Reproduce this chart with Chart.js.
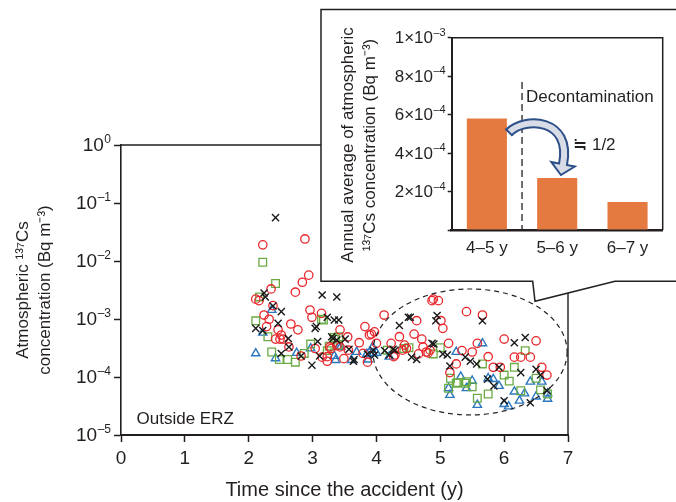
<!DOCTYPE html>
<html><head><meta charset="utf-8">
<script src="https://cdn.jsdelivr.net/npm/chart.js@4.4.0/dist/chart.umd.min.js"></script>
<style>
html,body{margin:0;padding:0;background:#fff;}
#wrap{position:relative;width:676px;height:502px;overflow:hidden;background:#fff;}
#main{position:absolute;left:0;top:0;width:676px;height:502px;}
#inset{position:absolute;left:321px;top:9px;width:355px;height:272px;}
</style></head><body>
<div id="wrap"><canvas id="main" width="676" height="502"></canvas><canvas id="inset" width="355" height="272"></canvas></div>
<script>
// ---------- data ----------
const xTickValues = [0,1,2,3,4,5,6,7];
const yTickValues = [1,1e-1,1e-2,1e-3,1e-4,1e-5];
const yTickLabels = ['10^0','10^–1','10^–2','10^–3','10^–4','10^–5'];

const redCircles = [
[2.88,2.4e-2],[2.22,1.9e-2],[2.94,5.7e-3],[2.84,4.3e-3],[2.73,2.9e-3],[2.35,3.3e-3],[2.11,2.2e-3],[2.16,2.07e-3],
[2.38,1.7e-3],[2.96,1.43e-3],[2.99,1.07e-3],[3.14,1.25e-3],[3.43,6.5e-4],[2.24,1.17e-3],[2.32,9.9e-4],[2.66,8.2e-4],
[2.77,6.5e-4],[2.46,6.5e-4],[2.51,5.3e-4],[2.54,4.5e-4],[2.49,4.5e-4],[3.04,3.1e-4],[2.63,3.3e-4],[2.82,2.3e-4],
[3.23,1.87e-4],[3.27,3.3e-4],[3.38,3.5e-4],[3.43,3.3e-4],[3.49,2.07e-4],[3.82,7.4e-4],[3.86,1.8e-4],[3.89,5.3e-4],
[3.97,6.0e-4],[3.92,5.5e-4],[3.55,4.9e-4],[3.73,3.9e-4],[4.00,3.8e-4],[3.29,3.1e-4],[3.56,2.9e-4],[3.15,2.2e-4],
[3.79,2.55e-4],[3.23,2.24e-4],[2.28,7.4e-4],[2.42,4.5e-4],
[4.87,2.07e-3],[4.89,2.2e-3],[4.97,2.07e-3],[4.12,1.17e-3],[5.41,1.34e-3],[5.66,1.17e-3],[4.63,9.35e-4],[5.01,9.35e-4],
[5.04,6.9e-4],[4.36,4.95e-4],[4.59,5.5e-4],[4.71,4.5e-4],[4.23,3.8e-4],[4.44,3.55e-4],[5.13,3.8e-4],[5.58,3.8e-4],
[6.00,4.5e-4],[6.50,4.2e-4],[4.47,3.1e-4],[4.41,2.9e-4],[4.73,3.3e-4],[4.66,2.5e-4],[4.78,2.7e-4],[4.81,2.6e-4],
[4.27,2.24e-4],[5.34,2.85e-4],[5.50,2.7e-4],[5.75,2.24e-4],[6.16,2.2e-4],[6.26,2.2e-4],[6.41,2.2e-4],[5.25,1.68e-4],
[5.83,1.47e-4],[6.59,1.47e-4],[6.67,1.08e-4],[5.15,1.19e-4],[5.94,1.47e-4],[4.84,2.9e-4],[4.29,2.4e-4]
];
const blackCrosses = [
[2.42,5.6e-2],[2.24,2.8e-3],[2.26,2.4e-3],[3.15,2.6e-3],[3.38,2.4e-3],[2.38,1.67e-3],[2.51,1.34e-3],[3.23,1.07e-3],
[3.34,9.6e-4],[3.41,9.6e-4],[3.04,6.9e-4],[2.46,8.4e-4],[2.11,6.9e-4],[2.22,6.3e-4],[2.62,4.6e-4],[3.08,4.1e-4],
[2.63,3.3e-4],[2.51,2.55e-4],[2.82,2.3e-4],[3.11,2.3e-4],[2.99,1.6e-4],[3.30,4.95e-4],[3.38,4.35e-4],[3.51,4.5e-4],
[3.57,3.0e-4],[3.64,1.87e-4],[3.86,2.5e-4],[3.97,2.4e-4],[3.06,7.4e-4],[3.32,4.6e-4],[3.65,2.0e-4],
[4.50,1.07e-3],[4.53,1.07e-3],[4.36,7.7e-4],[4.95,1.15e-3],[4.93,9.35e-4],[5.66,9.35e-4],[4.87,3.8e-4],[4.90,3.7e-4],
[6.16,3.9e-4],[6.33,4.8e-4],[3.95,2.9e-4],[4.13,2.85e-4],[4.29,2.9e-4],[4.55,2.2e-4],[4.63,2.0e-4],[5.04,2.5e-4],
[5.11,2.4e-4],[5.39,2.2e-4],[5.47,1.87e-4],[5.57,1.68e-4],[5.15,1.55e-4],[5.92,1.47e-4],[6.26,1.19e-4],[6.50,1.36e-4],
[6.57,1.08e-4],[5.74,9.2e-5],[5.84,7.0e-5],[6.00,3.9e-5],[6.41,3.6e-5],[6.67,5.8e-5],[4.20,2.4e-4],[4.26,3.0e-4]
];
const greenSquares = [
[2.22,9.5e-3],[2.42,4.1e-3],[2.17,2.4e-3],[3.14,9.9e-4],[2.11,9.3e-4],[2.30,4.95e-4],[2.97,3.7e-4],[2.36,2.7e-4],
[2.48,2.0e-4],[2.61,2.0e-4],[2.73,1.8e-4],[2.87,2.55e-4],[3.34,4.8e-4],[3.41,4.95e-4],[3.36,4.5e-4],[3.40,3.55e-4],
[3.26,3.4e-4],[3.23,2.85e-4],[3.17,9.6e-4],
[4.17,2.9e-4],[4.43,3.1e-4],[4.51,3.2e-4],[5.00,3.2e-4],[4.89,2.5e-4],[6.33,2.85e-4],[5.66,1.68e-4],[6.16,1.47e-4],
[6.00,1.08e-4],[6.08,8.5e-5],[5.16,9.5e-5],[5.27,8.0e-5],[5.41,8.3e-5],[5.50,6.8e-5],[6.50,9.5e-5],[5.75,5.1e-5],
[5.58,4.3e-5],[6.26,5.8e-5],[6.57,6.0e-5],[5.13,6.4e-5],[5.25,7.8e-5],[5.39,7.8e-5],[6.68,5.1e-5]
];
const blueTriangles = [
[2.36,1.43e-3],[2.22,5.8e-4],[2.11,2.55e-4],[2.42,2.1e-4],[2.75,2.6e-4],[2.97,3.1e-4],[3.34,2.3e-4],[3.41,3.3e-4],
[3.69,2.7e-4],[3.85,2.5e-4],[3.94,3.3e-4],[3.44,3.3e-4],[3.36,1.96e-4],[3.61,1.96e-4],[3.87,2.0e-4],[4.00,2.6e-4],
[3.95,2.55e-4],
[4.20,2.24e-4],[5.66,3.8e-4],[5.25,2.7e-4],[5.32,1.01e-4],[5.50,8.6e-5],[5.75,9.5e-5],[5.83,9.2e-5],[5.13,6.4e-5],
[5.15,4.9e-5],[5.41,6.4e-5],[5.92,7.0e-5],[6.16,5.6e-5],[6.32,5.2e-5],[6.41,8.3e-5],[6.59,8.3e-5],[6.68,5.2e-5],
[5.58,3.3e-5],[6.00,3.4e-5],[6.07,3.1e-5],[6.24,3.9e-5],[6.50,4.6e-5],[6.68,4.2e-5]
];

const insetCategories = ['4–5 y','5–6 y','6–7 y'];
const insetValues = [5.8e-4, 2.7e-4, 1.45e-4];
const insetTickValues = [0,2e-4,4e-4,6e-4,8e-4,1e-3];
const insetTickLabels = ['','2×10^–4','4×10^–4','6×10^–4','8×10^–4','1×10^–3'];

// ---------- styling ----------
const FONT = '"Liberation Sans", Arial, Helvetica, sans-serif';
const INK = '#231f20';
const pts = a => a.map(p => ({x:p[0], y:p[1]}));
const ellipseSpec = {cx:5.466, rx:1.52, cy:2.7e-4, decades:1.086};

// draws "base^exp" right-aligned with a raised, smaller exponent
function drawPow(ctx, label, xRight, yMid, size){
  const parts = label.split('^');
  const base = parts[0], exp = parts[1] || '';
  const sup = Math.round(size*0.63);
  ctx.save();
  ctx.fillStyle = INK; ctx.textAlign = 'left'; ctx.textBaseline = 'middle';
  ctx.font = sup+'px '+FONT; const ew = ctx.measureText(exp).width;
  ctx.font = size+'px '+FONT; const bw = ctx.measureText(base).width;
  ctx.fillText(base, xRight-ew-bw-0.5, yMid+1);
  ctx.font = sup+'px '+FONT; ctx.fillText(exp, xRight-ew, yMid+1-size*0.34);
  ctx.restore();
}
function labelFor(values, labels, v, log){
  const i = values.findIndex(t => log ? Math.abs(Math.log10(t)-Math.log10(v))<1e-6 : Math.abs(t-v)<1e-9);
  return i>=0 ? labels[i] : '';
}

const mainDecor = {
  id:'mainDecor',
  afterDraw(chart){
    const {ctx, chartArea:a, scales:{x,y}} = chart;
    ctx.save();
    ctx.strokeStyle = INK; ctx.lineWidth = 1.4;
    ctx.beginPath(); ctx.moveTo(a.left,a.top); ctx.lineTo(a.right,a.top); ctx.lineTo(a.right,a.bottom); ctx.stroke();
    // y tick labels with superscript exponents
    const tl = y.options.grid.tickLength + y.options.ticks.padding;
    y.ticks.forEach(t => drawPow(ctx, labelFor(yTickValues, yTickLabels, t.value, true), a.left - tl, y.getPixelForValue(t.value), 19));
    // dashed ellipse
    const cx = x.getPixelForValue(ellipseSpec.cx);
    const rx = x.getPixelForValue(ellipseSpec.cx+ellipseSpec.rx) - cx;
    const cy = y.getPixelForValue(ellipseSpec.cy);
    const ry = cy - y.getPixelForValue(ellipseSpec.cy*Math.pow(10,ellipseSpec.decades));
    ctx.strokeStyle = INK; ctx.setLineDash([5,4]); ctx.lineWidth = 1.2;
    ctx.beginPath(); ctx.ellipse(cx,cy,rx,ry,0,0,2*Math.PI); ctx.stroke();
    ctx.setLineDash([]);
    ctx.fillStyle = INK; ctx.font = '17px '+FONT; ctx.textAlign = 'left'; ctx.textBaseline = 'middle';
    ctx.fillText('Outside ERZ', a.left+15.5, a.bottom-15.5);
    // inset call-out box
    ctx.beginPath();
    ctx.moveTo(321,9.5); ctx.lineTo(690,9.5); ctx.lineTo(690,281.3); ctx.lineTo(615,281.3);
    ctx.lineTo(535,301.3); ctx.lineTo(532.7,281.3); ctx.lineTo(321,281.3); ctx.closePath();
    ctx.fillStyle = '#fff'; ctx.fill();
    ctx.lineWidth = 1.5; ctx.strokeStyle = INK; ctx.stroke();
    ctx.restore();
  }
};

new Chart(document.getElementById('main'), {
  type:'scatter',
  data:{datasets:[
    {data:pts(blackCrosses), pointStyle:'crossRot', pointRadius:5, pointBorderWidth:1.4, borderColor:'#1a1a1a', backgroundColor:'#1a1a1a'},
    {data:pts(redCircles), pointStyle:'circle', pointRadius:4.2, pointBorderWidth:1.3, borderColor:'#e8262b', backgroundColor:'rgba(0,0,0,0)'},
    {data:pts(greenSquares), pointStyle:'rect', pointRadius:5.4, pointBorderWidth:1.3, borderColor:'#6aab45', backgroundColor:'rgba(0,0,0,0)'},
    {data:pts(blueTriangles), pointStyle:'triangle', pointRadius:4.8, pointBorderWidth:1.4, borderColor:'#2a77c0', backgroundColor:'rgba(0,0,0,0)'}
  ]},
  options:{
    responsive:false, animation:false, events:[],
    layout:{padding:{top:145,right:108,left:0,bottom:0}},
    plugins:{legend:{display:false}, tooltip:{enabled:false}},
    scales:{
      x:{type:'linear', min:0, max:7,
        afterBuildTicks:s=>{s.ticks = xTickValues.map(v=>({value:v}));},
        afterFit:s=>{s.height = 67;},
        grid:{display:true, drawOnChartArea:false, drawTicks:true, tickLength:7, tickWidth:1.5, tickColor:INK},
        border:{display:true, color:INK, width:2},
        ticks:{font:{family:FONT,size:19}, color:INK, padding:5, maxRotation:0, autoSkip:false},
        title:{display:true, text:'Time since the accident (y)', font:{family:FONT,size:20,lineHeight:1.2}, color:INK, padding:{top:0,bottom:0}}
      },
      y:{type:'logarithmic', min:1e-5, max:1,
        afterBuildTicks:s=>{s.ticks = yTickValues.map(v=>({value:v}));},
        afterFit:s=>{s.width = 121;},
        grid:{display:true, drawOnChartArea:false, drawTicks:true, tickLength:7, tickWidth:1.5, tickColor:INK},
        border:{display:true, color:INK, width:1.6},
        ticks:{font:{family:FONT,size:19}, color:INK, padding:3, autoSkip:false, callback:()=>''},
        title:{display:true, text:['Atmospheric ¹³⁷Cs','concentration (Bq m⁻³)'], font:{family:FONT,size:17,lineHeight:1.3}, color:INK, padding:{top:12,bottom:0}}
      }
    }
  },
  plugins:[mainDecor]
});

// ---------- inset ----------
const insetDecor = {
  id:'insetDecor',
  afterDraw(chart){
    const {ctx, chartArea:a, scales:{x,y}} = chart;
    const P = (i,v)=>[x.getPixelForValue(i), y.getPixelForValue(v)];
    ctx.save();
    ctx.strokeStyle = INK; ctx.lineWidth = 1.5;
    ctx.beginPath(); ctx.moveTo(a.left,a.top); ctx.lineTo(a.right,a.top); ctx.lineTo(a.right,a.bottom); ctx.stroke();
    // y tick labels
    const tl = y.options.grid.tickLength + y.options.ticks.padding;
    y.ticks.forEach(t => { const s = labelFor(insetTickValues, insetTickLabels, t.value, false); if (s) drawPow(ctx, s, a.left - tl, y.getPixelForValue(t.value), 17); });
    // decontamination divider
    const dx = x.getPixelForValue(0.5);
    ctx.strokeStyle = INK; ctx.setLineDash([7,4]); ctx.lineWidth = 1.3;
    ctx.beginPath(); ctx.moveTo(dx, y.getPixelForValue(7.7e-4)); ctx.lineTo(dx, a.bottom); ctx.stroke();
    ctx.setLineDash([]);
    ctx.fillStyle = INK; ctx.font = '17px '+FONT; ctx.textAlign = 'left'; ctx.textBaseline = 'middle';
    ctx.fillText('Decontamination', dx+4, y.getPixelForValue(6.9e-4));
    ctx.fillText('≒ 1/2', x.getPixelForValue(1)+16, y.getPixelForValue(4.4e-4));
    // curved arrow
    const S = P(0.315,5.08e-4), C1 = P(0.542,5.91e-4), C2 = P(1.211,5.80e-4), E = P(1.083,3.42e-4);
    const navy = '#2c4f8a', light = '#d7dce6';
    const shaft = ()=>{ctx.beginPath(); ctx.moveTo(S[0],S[1]); ctx.bezierCurveTo(C1[0],C1[1],C2[0],C2[1],E[0],E[1]);};
    ctx.lineCap = 'butt';
    ctx.strokeStyle = navy; ctx.lineWidth = 10; shaft(); ctx.stroke();
    let tx = E[0]-C2[0], ty = E[1]-C2[1]; const tn = Math.hypot(tx,ty); tx/=tn; ty/=tn;
    const nx = -ty, ny = tx;
    ctx.beginPath();
    ctx.moveTo(E[0]+nx*12, E[1]+ny*12); ctx.lineTo(E[0]+tx*11, E[1]+ty*11); ctx.lineTo(E[0]-nx*12, E[1]-ny*12); ctx.closePath();
    ctx.fillStyle = light; ctx.fill(); ctx.strokeStyle = navy; ctx.lineWidth = 2; ctx.lineJoin='miter'; ctx.stroke();
    ctx.strokeStyle = light; ctx.lineWidth = 6; shaft(); ctx.lineTo(E[0]+tx*2, E[1]+ty*2); ctx.stroke();
    let sx = C1[0]-S[0], sy = C1[1]-S[1]; const sn = Math.hypot(sx,sy); sx/=sn; sy/=sn;
    ctx.strokeStyle = navy; ctx.lineWidth = 2;
    ctx.beginPath(); ctx.moveTo(S[0]-sy*5, S[1]+sx*5); ctx.lineTo(S[0]+sy*5, S[1]-sx*5); ctx.stroke();
    // y title
    ctx.fillStyle = INK; ctx.font = '17px '+FONT; ctx.textAlign = 'center'; ctx.textBaseline = 'middle';
    ctx.translate(27.3, 136); ctx.rotate(-Math.PI/2);
    ctx.fillText('Annual average of atmospheric', 0, 0);
    ctx.fillText('¹³⁷Cs concentration (Bq m⁻³)', 0, 22);
    ctx.restore();
  }
};

new Chart(document.getElementById('inset'), {
  type:'bar',
  data:{labels:insetCategories, datasets:[{data:insetValues, backgroundColor:'#e47a40', borderWidth:0, barPercentage:0.57, categoryPercentage:1}]},
  options:{
    responsive:false, animation:false, events:[],
    layout:{padding:{top:28.7,right:13.3,left:0,bottom:0}},
    plugins:{legend:{display:false}, tooltip:{enabled:false}},
    scales:{
      x:{afterFit:s=>{s.height = 51;},
        grid:{display:false, drawTicks:false},
        border:{display:true, color:INK, width:2.5},
        ticks:{font:{family:FONT,size:17}, color:INK, padding:8}
      },
      y:{min:0, max:1e-3,
        afterBuildTicks:s=>{s.ticks = insetTickValues.map(v=>({value:v}));},
        afterFit:s=>{s.width = 130.7;},
        grid:{display:true, drawOnChartArea:false, drawTicks:true, tickLength:4, tickWidth:1.5, tickColor:INK},
        border:{display:true, color:INK, width:2},
        ticks:{font:{family:FONT,size:17}, color:INK, padding:2, callback:()=>''}
      }
    }
  },
  plugins:[insetDecor]
});
</script>
</body></html>
